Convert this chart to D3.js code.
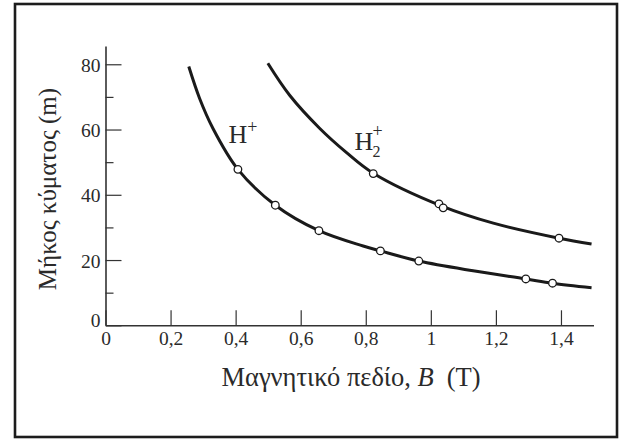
<!DOCTYPE html>
<html>
<head>
<meta charset="utf-8">
<script src="https://cdn.jsdelivr.net/npm/d3@7"></script>
<style>
  html, body { margin: 0; padding: 0; background: #fff; }
  svg { display: block; }
  text { font-family: "Liberation Serif", "DejaVu Serif", serif; fill: #2a2a2a; }
</style>
</head>
<body>
<script>
// ---- data ----
const xTickValues = [0, 0.2, 0.4, 0.6, 0.8, 1, 1.2, 1.4];
const xTickLabels = ["0", "0,2", "0,4", "0,6", "0,8", "1", "1,2", "1,4"];
const yTickValues = [0, 20, 40, 60, 80];
const yMinorTicks = [10, 30, 50, 70];

// H+ fitted curve (sampled along the drawn line)
const hCurveB      = [0.256, 0.289, 0.330, 0.407, 0.522, 0.656, 0.792, 0.845, 0.963, 1.130, 1.292, 1.374, 1.494];
const hCurveLambda = [79.3, 69.6, 60.4, 47.8, 36.8, 29.0, 24.3, 22.8, 19.7, 16.7, 14.2, 12.9, 11.5];
// H+ measured points
const hPointB      = [0.407, 0.522, 0.656, 0.845, 0.963, 1.292, 1.374];
const hPointLambda = [47.8, 36.8, 29.0, 22.8, 19.7, 14.2, 12.9];

// H2+ fitted curve
const h2CurveB      = [0.499, 0.566, 0.658, 0.740, 0.823, 1.032, 1.192, 1.394, 1.494];
const h2CurveLambda = [80.3, 70.5, 60.4, 53.0, 46.6, 36.6, 31.3, 26.7, 24.9];
// H2+ measured points
const h2PointB      = [0.823, 1.025, 1.038, 1.394];
const h2PointLambda = [46.5, 37.2, 36.0, 26.7];

const xTitle = "Μαγνητικό πεδίο, ";
const xTitleVar = "B";
const xTitleUnit = "(T)";
const yTitle = "Μήκος κύματος (m)";

// ---- drawing ----
const W = 622, H = 442;
const svg = d3.select("body").append("svg").attr("width", W).attr("height", H);

// frame
svg.append("rect")
  .attr("x", 15).attr("y", 4).attr("width", 602).attr("height", 433)
  .attr("fill", "none").attr("stroke", "#1c1c1c").attr("stroke-width", 2.6);

const x = d3.scaleLinear().domain([0, 1.5]).range([105.5, 593.5]);
const y = d3.scaleLinear().domain([0, 85.6]).range([325.3, 46]);

const axisColor = "#333";
const tickFont = 19.5;

// x axis (ticks pointing inward/up)
const gx = svg.append("g").attr("transform", `translate(0,${y(0)})`)
  .call(d3.axisBottom(x).tickValues(xTickValues)
    .tickFormat((d, i) => xTickLabels[i])
    .tickSizeInner(-15).tickSizeOuter(0).tickPadding(6));
gx.select(".domain").attr("stroke", axisColor).attr("stroke-width", 1.6);
gx.selectAll(".tick line").attr("stroke", axisColor).attr("stroke-width", 1.2);
gx.selectAll(".tick text").attr("font-size", tickFont).attr("font-family", "Liberation Serif").attr("fill", "#2a2a2a");

// y axis major
const gy = svg.append("g").attr("transform", `translate(${x(0)},0)`)
  .call(d3.axisLeft(y).tickValues(yTickValues)
    .tickSizeInner(-16).tickSizeOuter(0).tickPadding(5));
gy.select(".domain").attr("stroke", axisColor).attr("stroke-width", 1.6);
gy.selectAll(".tick line").attr("stroke", axisColor).attr("stroke-width", 1.2);
gy.selectAll(".tick text").attr("font-size", tickFont).attr("font-family", "Liberation Serif")
  .attr("fill", "#2a2a2a").attr("dy", d => d === 0 ? "0.05em" : "0.36em");

// y axis minor ticks
const gym = svg.append("g").attr("transform", `translate(${x(0)},0)`)
  .call(d3.axisLeft(y).tickValues(yMinorTicks).tickFormat("")
    .tickSizeInner(-8).tickSizeOuter(0));
gym.select(".domain").remove();
gym.selectAll(".tick line").attr("stroke", axisColor).attr("stroke-width", 1.2);

// curves
const line = d3.line().x(d => x(d[0])).y(d => y(d[1])).curve(d3.curveCatmullRom.alpha(0.5));
const hCurve = hCurveB.map((b, i) => [b, hCurveLambda[i]]);
const h2Curve = h2CurveB.map((b, i) => [b, h2CurveLambda[i]]);
[hCurve, h2Curve].forEach(c => {
  svg.append("path").attr("d", line(c)).attr("fill", "none")
    .attr("stroke", "#1a1a1a").attr("stroke-width", 3).attr("stroke-linecap", "butt");
});

// points
const pts = hPointB.map((b, i) => [b, hPointLambda[i]])
  .concat(h2PointB.map((b, i) => [b, h2PointLambda[i]]));
svg.append("g").selectAll("circle").data(pts).join("circle")
  .attr("cx", d => x(d[0])).attr("cy", d => y(d[1])).attr("r", 3.8)
  .attr("fill", "#fff").attr("stroke", "#1a1a1a").attr("stroke-width", 1.3);

// series labels
const lab1 = svg.append("text").attr("x", 228.5).attr("y", 142.5).attr("font-size", 26);
lab1.append("tspan").text("H");
lab1.append("tspan").attr("font-size", 18).attr("dy", -9.5).text("+");

const lab2 = svg.append("text").attr("x", 354.5).attr("y", 150).attr("font-size", 26);
lab2.append("tspan").text("H");
const subX = 372.5;
lab2.append("tspan").attr("font-size", 16).attr("x", subX).attr("dy", 6.5).text("2");
lab2.append("tspan").attr("font-size", 18).attr("x", subX).attr("dy", -20).text("+");

// axis titles
const xt = svg.append("text").attr("x", 351).attr("y", 385.5)
  .attr("text-anchor", "middle").attr("font-size", 26.5);
xt.append("tspan").text(xTitle);
xt.append("tspan").attr("font-style", "italic").text(xTitleVar);
xt.append("tspan").attr("dx", 13).text(xTitleUnit);

svg.append("text")
  .attr("transform", "translate(56,189) rotate(-90)")
  .attr("text-anchor", "middle").attr("font-size", 25)
  .text(yTitle);
</script>
</body>
</html>
